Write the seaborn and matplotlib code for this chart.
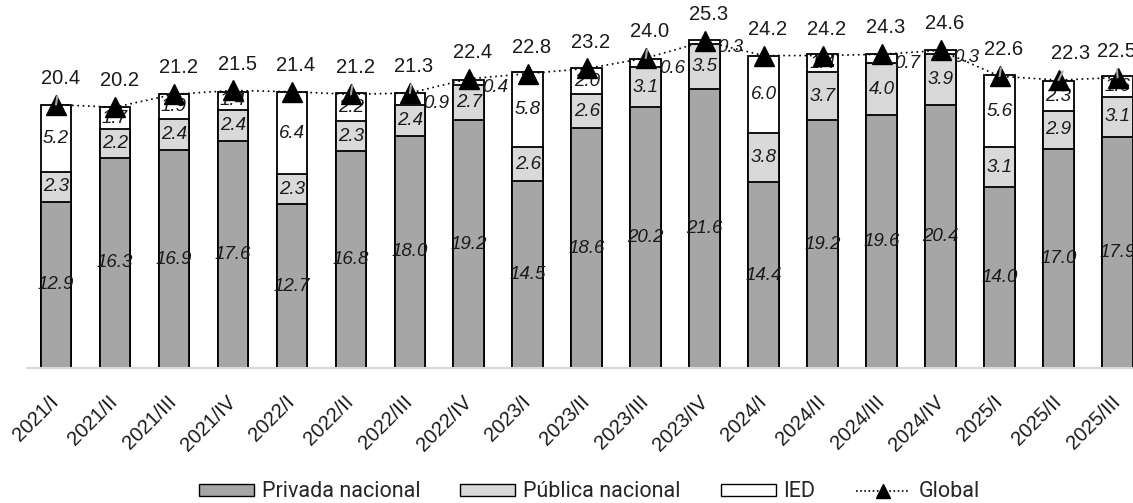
import numpy as np
import pandas as pd
import matplotlib
matplotlib.use("Agg")
import matplotlib.pyplot as plt
import seaborn as sns
from matplotlib.patches import Patch
from matplotlib.lines import Line2D

# Data
periods = ["2021/I", "2021/II", "2021/III", "2021/IV",
           "2022/I", "2022/II", "2022/III", "2022/IV",
           "2023/I", "2023/II", "2023/III", "2023/IV",
           "2024/I", "2024/II", "2024/III", "2024/IV",
           "2025/I", "2025/II", "2025/III"]
privada = [12.9, 16.3, 16.9, 17.6, 12.7, 16.8, 18.0, 19.2, 14.5, 18.6,
           20.2, 21.6, 14.4, 19.2, 19.6, 20.4, 14.0, 17.0, 17.9]
publica = [2.3, 2.2, 2.4, 2.4, 2.3, 2.3, 2.4, 2.7, 2.6, 2.6,
           3.1, 3.5, 3.8, 3.7, 4.0, 3.9, 3.1, 2.9, 3.1]
ied = [5.2, 1.7, 1.9, 1.4, 6.4, 2.2, 0.9, 0.4, 5.8, 2.0,
       0.6, 0.3, 6.0, 1.4, 0.7, 0.3, 5.6, 2.3, 1.6]
global_total = [20.4, 20.2, 21.2, 21.5, 21.4, 21.2, 21.3, 22.4, 22.8, 23.2,
                24.0, 25.3, 24.2, 24.2, 24.3, 24.6, 22.6, 22.3, 22.5]
leader_idx = [0, 5, 6, 10, 16, 17, 18]
# label nudges (points) where the original moved the labels
label_dx = {17: 6, 18: -4}

df = pd.DataFrame({"periodo": periods, "privada": privada,
                   "publica": publica, "ied": ied})
df["cum2"] = df["privada"] + df["publica"]
df["cum3"] = df["cum2"] + df["ied"]

sns.set_style("white")
plt.rcParams["font.family"] = ["Liberation Sans", "DejaVu Sans"]

fig = plt.figure(figsize=(11.33, 5.03), dpi=100)
ax = fig.add_axes([0.0234, 0.268, 0.977, 0.732])

edge = dict(edgecolor="black", linewidth=1.3)
w = 0.52
# stacked bars drawn as overlapping cumulative totals
sns.barplot(data=df, x="periodo", y="cum3", color="white", width=w,
            saturation=1, ax=ax, order=periods, **edge)
sns.barplot(data=df, x="periodo", y="cum2", color="#D9D9D9", width=w,
            saturation=1, ax=ax, order=periods, **edge)
sns.barplot(data=df, x="periodo", y="privada", color="#A6A6A6", width=w,
            saturation=1, ax=ax, order=periods, **edge)

txt = "#1a1a1a"
lab_kw = dict(fontsize=13.5, style="italic", color=txt, zorder=6)
for i in range(len(periods)):
    ax.text(i, privada[i] / 2, f"{privada[i]:.1f}", ha="center", va="center", **lab_kw)
    ax.text(i, privada[i] + publica[i] / 2, f"{publica[i]:.1f}",
            ha="center", va="center", **lab_kw)
    if ied[i] < 1:
        ax.text(i + w / 2 - 0.04, df["cum2"][i] + ied[i] / 2 - 0.4, f"{ied[i]:.1f}",
                ha="left", va="center", **lab_kw)
    else:
        ax.text(i, df["cum2"][i] + ied[i] / 2, f"{ied[i]:.1f}",
                ha="center", va="center", **lab_kw)

x = np.arange(len(periods))
ax.plot(x, global_total, color="black", linestyle=(0, (1, 2.2)), linewidth=1.2,
        marker="^", markersize=15, markerfacecolor="black",
        markeredgecolor="black", zorder=7)

for i, v in enumerate(global_total):
    arrow = None
    if i in leader_idx:
        arrow = dict(arrowstyle="-", color="#A6A6A6", lw=1.5,
                     shrinkA=4, shrinkB=0)
    ax.annotate(f"{v:.1f}", xy=(i, v), xytext=(3 + label_dx.get(i, 0), 19),
                textcoords="offset points",
                ha="center", va="center", fontsize=14.5, color=txt,
                arrowprops=arrow, zorder=8)

ax.set_ylim(0, 28.5)
ax.set_xlim(-0.5, 18.27)
ax.set_xlabel("")
ax.set_ylabel("")
ax.set_yticks([])
for s in ["top", "right", "left"]:
    ax.spines[s].set_visible(False)
ax.spines["bottom"].set_color("#D9D9D9")
ax.spines["bottom"].set_linewidth(1.5)
ax.tick_params(axis="x", length=0, pad=22, labelsize=14.5, labelcolor=txt)
plt.setp(ax.get_xticklabels(), rotation=45, ha="right", va="center",
         rotation_mode="anchor")

handles = [
    Patch(facecolor="#A6A6A6", edgecolor="black", linewidth=1.0, label="Privada nacional"),
    Patch(facecolor="#D9D9D9", edgecolor="black", linewidth=1.0, label="Pública nacional"),
    Patch(facecolor="white", edgecolor="black", linewidth=1.0, label="IED"),
    Line2D([], [], color="black", linestyle=(0, (1, 1.5)), linewidth=1.2,
           marker="^", markersize=10, label="Global"),
]
fig.legend(handles=handles, loc="center", bbox_to_anchor=(0.52, 0.022), ncol=4,
           frameon=False, handlelength=2.55, handleheight=0.47, handletextpad=0.37,
           columnspacing=1.86,
           prop={"family": ["Roboto", "DejaVu Sans"], "size": 15.5})

fig.savefig("out.png", dpi=100)
